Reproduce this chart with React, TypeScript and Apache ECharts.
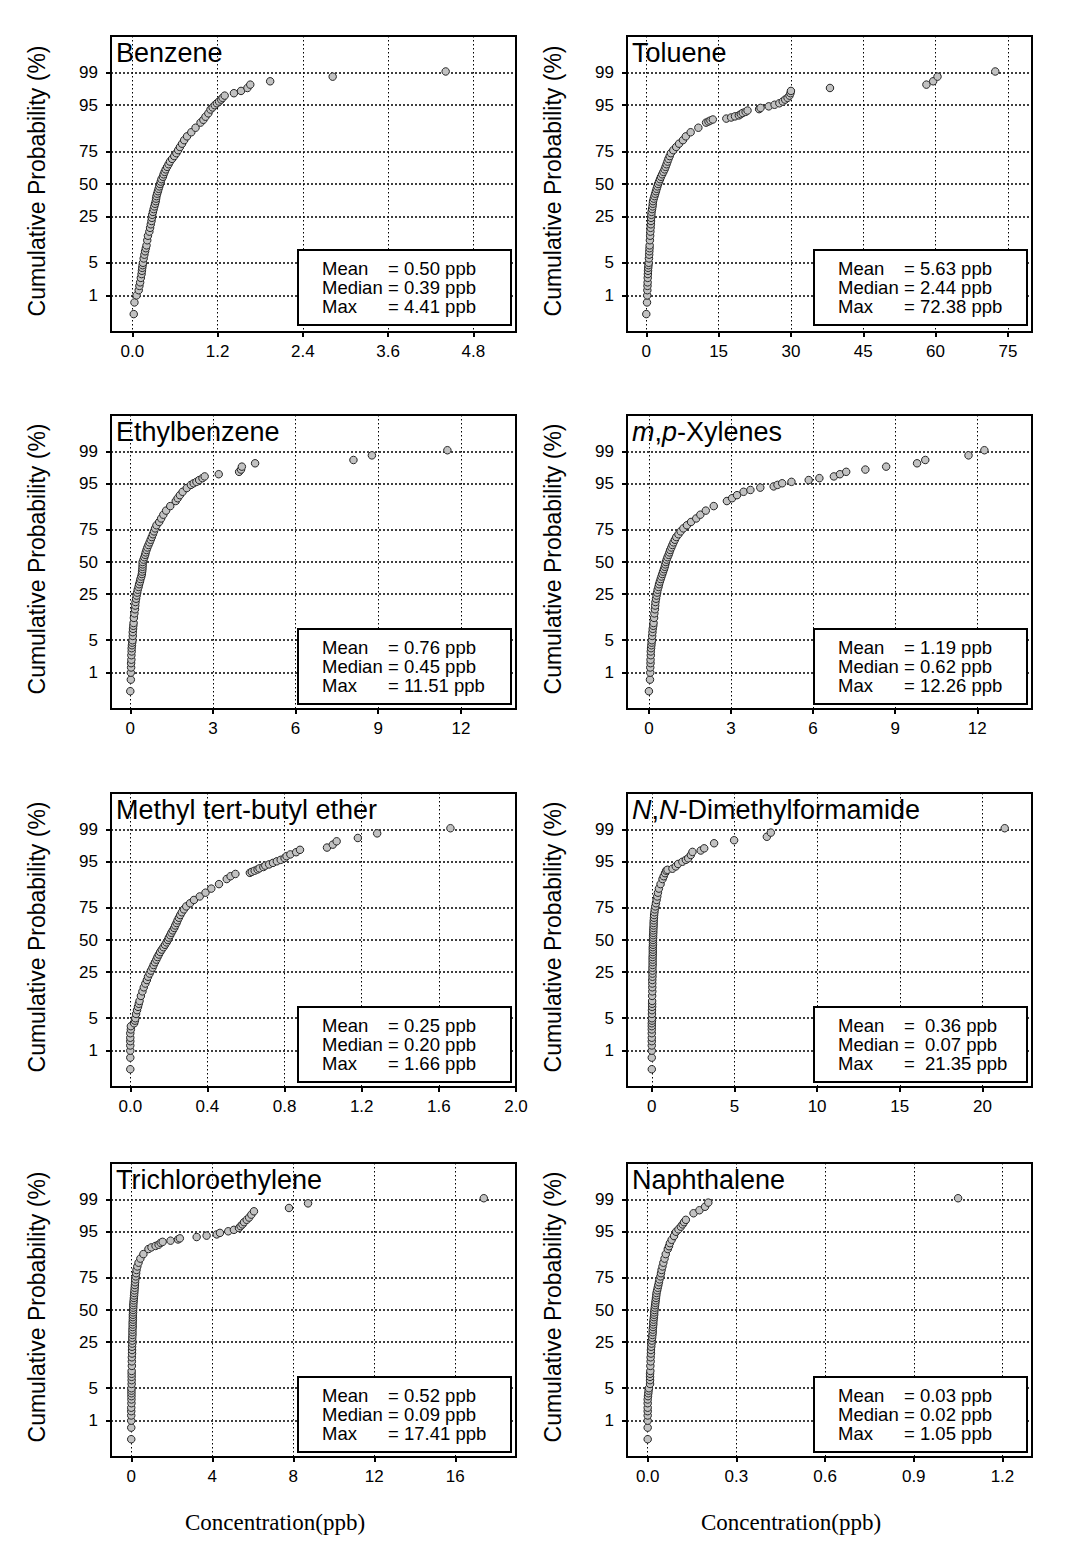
import React, { useEffect, useRef } from "react";
import * as echarts from "echarts";

// ---------------- DATA ----------------
// probability-axis tick labels (cumulative %)
const yTickPcts = [1, 5, 25, 50, 75, 95, 99];

// cumulative-probability levels (%) at which the dense part of each curve was read
const probLevels = [0.33, 0.67, 1, 1.33, 1.67, 2, 2.5, 3, 3.5, 4, 4.5, 5, 6, 7, 8, 9, 10,
  12, 14, 16, 18, 20, 22, 24, 26, 28, 30, 32, 34, 36, 38, 40, 42, 44, 46, 48, 50,
  52, 54, 56, 58, 60, 62, 64, 66, 68, 70, 72, 74, 76, 78, 80, 82, 84, 86, 88, 90];

// concentrations (ppb) at probLevels
const benzeneConc = [0.02, 0.03, 0.06, 0.09, 0.10, 0.11, 0.12, 0.13, 0.135, 0.14, 0.145, 0.15, 0.16, 0.17, 0.18, 0.19, 0.20,
  0.21, 0.22, 0.24, 0.25, 0.26, 0.27, 0.275, 0.28, 0.29, 0.30, 0.31, 0.32, 0.33, 0.335, 0.34, 0.35, 0.36, 0.37, 0.38, 0.39,
  0.40, 0.41, 0.43, 0.44, 0.455, 0.47, 0.49, 0.51, 0.53, 0.56, 0.59, 0.62, 0.645, 0.67, 0.70, 0.73, 0.77, 0.83, 0.89, 0.96];
const tolueneConc = [0.0, 0.15, 0.2, 0.22, 0.25, 0.28, 0.3, 0.33, 0.36, 0.4, 0.45, 0.5, 0.55, 0.6, 0.63, 0.67, 0.7,
  0.75, 0.8, 0.85, 0.9, 0.95, 0.98, 1.0, 1.05, 1.1, 1.2, 1.3, 1.35, 1.4, 1.55, 1.7, 1.85, 2.0, 2.15, 2.3, 2.45,
  2.65, 2.85, 3.05, 3.3, 3.55, 3.8, 4.0, 4.2, 4.4, 4.6, 4.85, 5.1, 5.6, 6.2, 6.8, 7.6, 8.2, 9.2, 10.8, 12.4];
const ethylbenzeneConc = [0.0, 0.02, 0.02, 0.03, 0.03, 0.04, 0.04, 0.05, 0.05, 0.06, 0.07, 0.08, 0.09, 0.09, 0.10, 0.11, 0.12,
  0.13, 0.15, 0.17, 0.18, 0.19, 0.21, 0.23, 0.25, 0.27, 0.30, 0.32, 0.35, 0.37, 0.40, 0.42, 0.43, 0.44, 0.445, 0.45, 0.45,
  0.48, 0.51, 0.54, 0.56, 0.59, 0.62, 0.66, 0.70, 0.74, 0.78, 0.82, 0.86, 0.90, 0.95, 1.05, 1.12, 1.20, 1.30, 1.45, 1.65];
const xylenesConc = [0.0, 0.04, 0.05, 0.05, 0.06, 0.06, 0.07, 0.07, 0.08, 0.09, 0.10, 0.11, 0.12, 0.13, 0.14, 0.16, 0.17,
  0.19, 0.20, 0.22, 0.23, 0.24, 0.26, 0.28, 0.30, 0.32, 0.35, 0.37, 0.40, 0.43, 0.46, 0.49, 0.52, 0.55, 0.58, 0.60, 0.62,
  0.65, 0.68, 0.72, 0.75, 0.78, 0.82, 0.86, 0.90, 0.95, 1.00, 1.08, 1.16, 1.26, 1.39, 1.54, 1.73, 1.88, 2.08, 2.37, 2.85];
const mtbeConc = [0.0, 0.0, 0.0, 0.0, 0.0, 0.0, 0.0, 0.003, 0.003, 0.02, 0.024, 0.026, 0.03, 0.035, 0.04, 0.044, 0.048,
  0.055, 0.063, 0.07, 0.078, 0.086, 0.092, 0.10, 0.107, 0.115, 0.121, 0.128, 0.135, 0.141, 0.148, 0.155, 0.163, 0.172, 0.18, 0.188, 0.195,
  0.20, 0.207, 0.213, 0.22, 0.228, 0.233, 0.24, 0.245, 0.252, 0.259, 0.267, 0.278, 0.29, 0.31, 0.33, 0.36, 0.39, 0.42, 0.46, 0.50];
const dmfConc = [0.0, 0.0, 0.0, 0.0, 0.0, 0.0, 0.0, 0.0, 0.0, 0.0, 0.01, 0.01, 0.01, 0.01, 0.02, 0.02, 0.02,
  0.02, 0.03, 0.03, 0.03, 0.03, 0.04, 0.04, 0.04, 0.04, 0.05, 0.05, 0.05, 0.05, 0.06, 0.06, 0.06, 0.06, 0.07, 0.07, 0.07,
  0.08, 0.08, 0.09, 0.09, 0.10, 0.11, 0.11, 0.12, 0.13, 0.14, 0.16, 0.18, 0.21, 0.25, 0.29, 0.33, 0.37, 0.43, 0.53, 0.65];
const tceConc = [0.0, 0.0, 0.0, 0.0, 0.0, 0.0, 0.01, 0.01, 0.01, 0.01, 0.01, 0.01, 0.02, 0.02, 0.02, 0.02, 0.02,
  0.03, 0.03, 0.03, 0.04, 0.04, 0.04, 0.05, 0.05, 0.05, 0.06, 0.06, 0.06, 0.07, 0.07, 0.07, 0.08, 0.08, 0.08, 0.09, 0.09,
  0.10, 0.10, 0.11, 0.12, 0.13, 0.14, 0.15, 0.16, 0.17, 0.18, 0.19, 0.20, 0.22, 0.24, 0.26, 0.30, 0.36, 0.45, 0.60, 0.85];
const naphthaleneConc = [0.0, 0.0, 0.0, 0.0, 0.0, 0.0, 0.0, 0.0, 0.001, 0.002, 0.003, 0.004, 0.008, 0.008, 0.008, 0.008, 0.009,
  0.009, 0.010, 0.010, 0.011, 0.011, 0.012, 0.013, 0.014, 0.015, 0.016, 0.017, 0.017, 0.018, 0.019, 0.019, 0.020, 0.021, 0.022, 0.022, 0.023,
  0.024, 0.025, 0.026, 0.027, 0.028, 0.029, 0.030, 0.032, 0.034, 0.036, 0.038, 0.040, 0.043, 0.045, 0.047, 0.050, 0.053, 0.057, 0.061, 0.068];

// upper-tail points read individually: [concentration ppb, cumulative %]
const benzeneTail = [[1.00, 91], [1.03, 92], [1.07, 93], [1.10, 94], [1.13, 94.5], [1.16, 95], [1.19, 95.4], [1.22, 95.75],
  [1.25, 96.1], [1.27, 96.4], [1.30, 96.75], [1.43, 97.1], [1.53, 97.4], [1.62, 97.75], [1.66, 98.1], [1.94, 98.4], [2.82, 98.75], [4.41, 99.06]];
const tolueneTail = [[12.9, 90.4], [13.3, 90.75], [13.8, 91.1], [16.6, 91.4], [17.6, 91.75], [18.4, 92.1], [19.2, 92.4], [19.6, 92.75],
  [20.0, 93.1], [20.6, 93.4], [21.0, 93.75], [23.4, 94.1], [23.7, 94.4], [25.4, 94.75], [26.6, 95.1], [27.6, 95.4], [28.3, 95.75],
  [28.8, 96.1], [29.3, 96.4], [29.7, 96.75], [29.9, 97.1], [30.0, 97.4], [38.1, 97.75], [58.1, 98.1], [59.5, 98.4], [60.4, 98.75], [72.38, 99.06]];
const ethylbenzeneTail = [[1.72, 91], [1.80, 92], [1.90, 93], [2.05, 94], [2.2, 94.75], [2.3, 95.1], [2.4, 95.4], [2.5, 95.75],
  [2.62, 96.1], [2.70, 96.4], [3.21, 96.75], [3.95, 97.1], [4.02, 97.4], [4.05, 97.75], [4.53, 98.1], [8.10, 98.4], [8.77, 98.75], [11.51, 99.06]];
const xylenesTail = [[3.04, 91], [3.22, 92], [3.46, 93], [3.71, 93.5], [4.07, 94.1], [4.56, 94.4], [4.70, 94.75], [4.87, 95.1],
  [5.21, 95.4], [5.84, 95.75], [6.23, 96.1], [6.76, 96.4], [6.98, 96.75], [7.21, 97.1], [7.91, 97.4], [8.67, 97.75], [9.80, 98.1],
  [10.10, 98.4], [11.68, 98.75], [12.26, 99.06]];
const mtbeTail = [[0.52, 91], [0.545, 91.75], [0.62, 92.1], [0.63, 92.4], [0.645, 92.75], [0.66, 93.1], [0.67, 93.4], [0.69, 93.75],
  [0.70, 94.1], [0.72, 94.4], [0.74, 94.75], [0.76, 95.1], [0.78, 95.4], [0.80, 95.75], [0.81, 96.1], [0.83, 96.4], [0.86, 96.75],
  [0.88, 97.1], [1.02, 97.4], [1.05, 97.75], [1.07, 98.1], [1.18, 98.4], [1.28, 98.75], [1.66, 99.06]];
const dmfTail = [[0.72, 91], [0.80, 92], [0.87, 92.75], [0.95, 93.0], [1.25, 93.3], [1.45, 93.9], [1.59, 94.5], [1.85, 95.0],
  [2.06, 95.4], [2.2, 95.7], [2.36, 96.3], [2.46, 96.8], [2.96, 97.0], [3.17, 97.3], [3.77, 97.9], [4.98, 98.2], [6.96, 98.5],
  [7.2, 98.8], [21.35, 99.06]];
const tceTail = [[1.0, 90.6], [1.2, 91.1], [1.35, 91.5], [1.45, 92.1], [1.55, 92.4], [1.94, 92.75], [2.31, 93.1], [2.40, 93.4],
  [3.23, 93.75], [3.72, 94.1], [4.22, 94.4], [4.38, 94.75], [4.79, 95.1], [5.07, 95.4], [5.32, 95.75], [5.40, 96.1], [5.49, 96.4],
  [5.57, 96.75], [5.70, 97.1], [5.82, 97.4], [5.93, 97.75], [6.06, 98.1], [7.79, 98.4], [8.73, 98.75], [17.41, 99.06]];
const naphthaleneTail = [[0.072, 91], [0.075, 92], [0.081, 93], [0.089, 94], [0.096, 95], [0.104, 95.5], [0.112, 96], [0.118, 96.4],
  [0.123, 96.75], [0.129, 97.1], [0.155, 97.9], [0.175, 98.2], [0.194, 98.5], [0.205, 98.8], [1.05, 99.06]];

// x-axis ranges and tick labels
const benzeneX = { range: [-0.3, 5.4], ticks: [0, 1.2, 2.4, 3.6, 4.8], dec: 1 };
const tolueneX = { range: [-4, 80], ticks: [0, 15, 30, 45, 60, 75], dec: 0 };
const ethylbenzeneX = { range: [-0.7, 14], ticks: [0, 3, 6, 9, 12], dec: 0 };
const xylenesX = { range: [-0.8, 14], ticks: [0, 3, 6, 9, 12], dec: 0 };
const mtbeX = { range: [-0.1, 2.0], ticks: [0, 0.4, 0.8, 1.2, 1.6, 2.0], dec: 1 };
const dmfX = { range: [-1.5, 23], ticks: [0, 5, 10, 15, 20], dec: 0 };
const tceX = { range: [-1, 19], ticks: [0, 4, 8, 12, 16], dec: 0 };
const naphthaleneX = { range: [-0.07, 1.3], ticks: [0, 0.3, 0.6, 0.9, 1.2], dec: 1 };

// summary statistics: mean, median, max (ppb)
const benzeneStats = ["0.50", "0.39", "4.41"];
const tolueneStats = ["5.63", "2.44", "72.38"];
const ethylbenzeneStats = ["0.76", "0.45", "11.51"];
const xylenesStats = ["1.19", "0.62", "12.26"];
const mtbeStats = ["0.25", "0.20", "1.66"];
const dmfStats = ["0.36", "0.07", "21.35"];
const tceStats = ["0.52", "0.09", "17.41"];
const naphthaleneStats = ["0.03", "0.02", "1.05"];

const statLabels = ["Mean", "Median", "Max"];

// ---------------- HELPERS ----------------
function probit(p: number): number {
  const a = [-39.69683028665376, 220.9460984245205, -275.9285104469687, 138.357751867269, -30.66479806614716, 2.506628277459239];
  const b = [-54.47609879822406, 161.5858368580409, -155.6989798598866, 66.80131188771972, -13.28068155288572];
  const c = [-0.007784894002430293, -0.3223964580411365, -2.400758277161838, -2.549732539343734, 4.374664141464968, 2.938163982698783];
  const d = [0.007784695709041462, 0.3224671290700398, 2.445134137142996, 3.754408661907416];
  const plow = 0.02425;
  const phigh = 1 - plow;
  let q: number, r: number;
  if (p < plow) {
    q = Math.sqrt(-2 * Math.log(p));
    return (((((c[0] * q + c[1]) * q + c[2]) * q + c[3]) * q + c[4]) * q + c[5]) /
      ((((d[0] * q + d[1]) * q + d[2]) * q + d[3]) * q + 1);
  }
  if (p <= phigh) {
    q = p - 0.5;
    r = q * q;
    return ((((((a[0] * r + a[1]) * r + a[2]) * r + a[3]) * r + a[4]) * r + a[5]) * q) /
      (((((b[0] * r + b[1]) * r + b[2]) * r + b[3]) * r + b[4]) * r + 1);
  }
  q = Math.sqrt(-2 * Math.log(1 - p));
  return -(((((c[0] * q + c[1]) * q + c[2]) * q + c[3]) * q + c[4]) * q + c[5]) /
    ((((d[0] * q + d[1]) * q + d[2]) * q + d[3]) * q + 1);
}

const FONT = "'Liberation Sans', Arial, Helvetica, sans-serif";
const SERIF = "'Liberation Serif', 'Times New Roman', serif";

const panels = [
  { title: "Benzene", conc: benzeneConc, tail: benzeneTail, x: benzeneX, stats: benzeneStats, eq: "= " },
  { title: "Toluene", conc: tolueneConc, tail: tolueneTail, x: tolueneX, stats: tolueneStats, eq: "= " },
  { title: "Ethylbenzene", conc: ethylbenzeneConc, tail: ethylbenzeneTail, x: ethylbenzeneX, stats: ethylbenzeneStats, eq: "= " },
  { title: "{i|m},{i|p}-Xylenes", conc: xylenesConc, tail: xylenesTail, x: xylenesX, stats: xylenesStats, eq: "= " },
  { title: "Methyl tert-butyl ether", conc: mtbeConc, tail: mtbeTail, x: mtbeX, stats: mtbeStats, eq: "= " },
  { title: "{i|N},{i|N}-Dimethylformamide", conc: dmfConc, tail: dmfTail, x: dmfX, stats: dmfStats, eq: "=  " },
  { title: "Trichloroethylene", conc: tceConc, tail: tceTail, x: tceX, stats: tceStats, eq: "= " },
  { title: "Naphthalene", conc: naphthaleneConc, tail: naphthaleneTail, x: naphthaleneX, stats: naphthaleneStats, eq: "= " },
];

// layout
const COL_LEFT = [111, 627];
const BOX_W = 405;
const ROW_TOP = [36, 415, 793, 1163];
const ROW_H = [296, 294, 294, 294];
const Z_MAX = 3.0902;

const yTickZ = yTickPcts.map((p) => probit(p / 100));

function buildOption() {
  const grids: any[] = [];
  const xAxes: any[] = [];
  const yAxes: any[] = [];
  const series: any[] = [];
  const elements: any[] = [];

  panels.forEach((pn, i) => {
    const col = i % 2;
    const row = Math.floor(i / 2);
    const left = COL_LEFT[col];
    const top = ROW_TOP[row];
    const h = ROW_H[row];

    grids.push({
      left, top, width: BOX_W, height: h,
      show: true, borderColor: "#000", borderWidth: 2, backgroundColor: "rgba(0,0,0,0)",
      containLabel: false, outerBoundsMode: "none",
    });

    xAxes.push({
      type: "value", gridIndex: i, min: pn.x.range[0], max: pn.x.range[1],
      axisLine: { show: false, onZero: false },
      axisTick: { show: true, inside: false, length: 5, customValues: pn.x.ticks, lineStyle: { color: "#000", width: 2 } },
      axisLabel: {
        show: true, customValues: pn.x.ticks, margin: 11, fontSize: 17, color: "#000", fontFamily: FONT,
        formatter: (v: number) => v.toFixed(pn.x.dec),
      },
      splitLine: { show: true, lineStyle: { color: "#000", width: 1, type: [1.5, 2.5] } },
    });

    yAxes.push({
      type: "value", gridIndex: i, min: -Z_MAX, max: Z_MAX,
      axisLine: { show: false, onZero: false },
      axisTick: { show: true, inside: false, length: 5, customValues: yTickZ, lineStyle: { color: "#000", width: 2 } },
      axisLabel: {
        show: true, customValues: yTickZ, margin: 13, fontSize: 17, color: "#000", fontFamily: FONT,
        formatter: (v: number) => {
          const k = yTickZ.findIndex((z) => Math.abs(z - v) < 1e-6);
          return k >= 0 ? String(yTickPcts[k]) : "";
        },
      },
      splitLine: { show: true, lineStyle: { color: "#000", width: 1.5, type: [2, 2] } },
    });

    const pts: number[][] = [];
    pn.conc.forEach((c, k) => pts.push([c, probit(probLevels[k] / 100)]));
    pn.tail.forEach((t) => pts.push([t[0], probit(t[1] / 100)]));

    series.push({
      type: "scatter", xAxisIndex: i, yAxisIndex: i, data: pts,
      symbol: "circle", symbolSize: 7.5,
      itemStyle: { color: "#c2c2c2", borderColor: "#262626", borderWidth: 1, opacity: 1 },
      emphasis: { disabled: true },
      z: 3,
    });

    // panel title
    elements.push({
      type: "text", x: left + 5, y: top + 17, z: 100,
      style: {
        text: pn.title, fill: "#000", fontSize: 27, fontFamily: FONT,
        align: "left", verticalAlign: "middle", textAlign: "left", textVerticalAlign: "middle",
        rich: { i: { fontStyle: "italic", fontSize: 27, fontFamily: FONT, fill: "#000" } },
      },
    });

    // y-axis title
    elements.push({
      type: "text", x: left - 74, y: top + h / 2 - 3, rotation: Math.PI / 2, z: 100,
      style: {
        text: "Cumulative Probability (%)", fill: "#000", fontSize: 23, fontFamily: FONT,
        align: "center", verticalAlign: "middle", textAlign: "center", textVerticalAlign: "middle",
      },
    });

    // stats box
    const bx = left + BOX_W - 5 - 213;
    const by = top + 214;
    elements.push({
      type: "rect", z: 100,
      shape: { x: bx, y: by, width: 213, height: 75 },
      style: { fill: "#fff", stroke: "#000", lineWidth: 2 },
    });
    statLabels.forEach((lab, k) => {
      const ty = by + 18.5 + k * 19;
      elements.push({
        type: "text", x: bx + 24, y: ty, z: 101,
        style: {
          text: lab, fill: "#000", fontSize: 18.5, fontFamily: FONT,
          align: "left", verticalAlign: "middle", textAlign: "left", textVerticalAlign: "middle",
        },
      });
      elements.push({
        type: "text", x: bx + 90, y: ty, z: 101,
        style: {
          text: pn.eq + pn.stats[k] + " ppb", fill: "#000", fontSize: 18.5, fontFamily: FONT,
          align: "left", verticalAlign: "middle", textAlign: "left", textVerticalAlign: "middle",
        },
      });
    });
  });

  // bottom x-axis titles
  [275, 791].forEach((cx) => {
    elements.push({
      type: "text", x: cx, y: 1522, z: 100,
      style: {
        text: "Concentration(ppb)", fill: "#000", fontSize: 23, fontFamily: SERIF,
        align: "center", verticalAlign: "middle", textAlign: "center", textVerticalAlign: "middle",
      },
    });
  });

  return {
    animation: false,
    backgroundColor: "#fff",
    textStyle: { fontFamily: FONT },
    grid: grids,
    xAxis: xAxes,
    yAxis: yAxes,
    series,
    graphic: { elements },
  };
}

export default function App() {
  const ref = useRef<HTMLDivElement>(null);
  useEffect(() => {
    document.body.style.margin = "0";
    if (!ref.current) return;
    const chart = echarts.init(ref.current, undefined, { renderer: "svg" });
    chart.setOption(buildOption() as any);
    return () => chart.dispose();
  }, []);
  return <div ref={ref} style={{ width: 1089, height: 1546 }} />;
}
